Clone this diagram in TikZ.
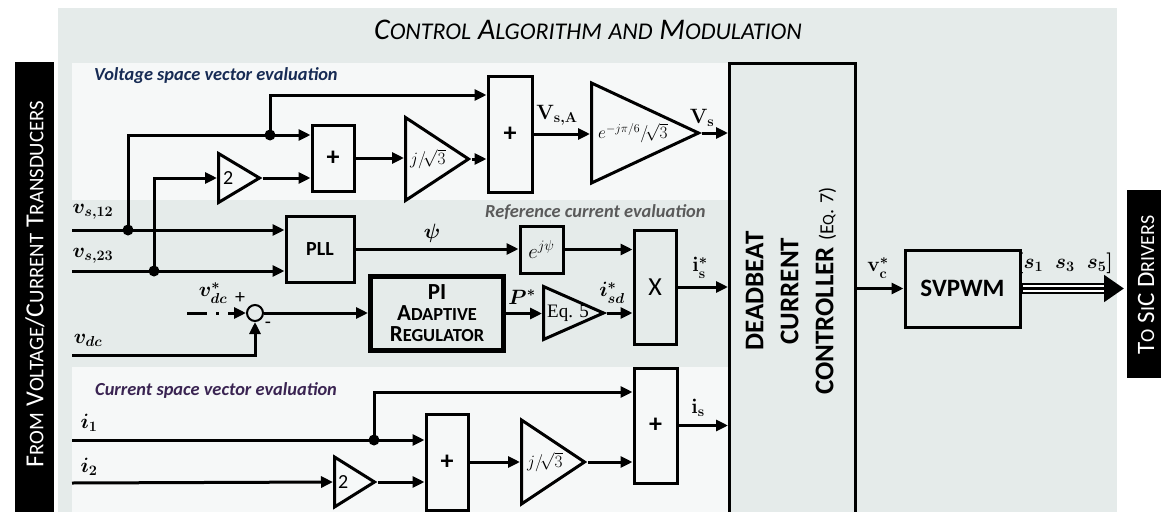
\documentclass[tikz,border=0pt]{standalone}
\usepackage{graphicx}
\usepackage{fontspec}
\setmainfont{Carlito}
\newfontfamily\tms{Liberation Serif}
\usetikzlibrary{shapes,arrows.meta,calc}
\usetikzlibrary{positioning}
\definecolor{panel}{RGB}{229,235,234}
\definecolor{inner}{RGB}{246,248,248}
\definecolor{voltcol}{RGB}{23,43,84}
\definecolor{refcol}{RGB}{90,90,90}
\definecolor{curcol}{RGB}{58,36,82}
\newcommand\sm[1]{\scalebox{0.8}{#1}}
\tikzstyle{blk}=[draw, line width=3pt, inner sep=0pt, font=\fontsize{26}{28}\selectfont\bfseries]
% triangle sizes: minimum width = base, minimum height = depth
\tikzstyle{gain}=[draw, isosceles triangle, isosceles triangle stretches, line width=3pt, inner sep=0pt, anchor=lower side]
\tikzstyle{gtxt}=[inner sep=0pt, font=\fontsize{18}{20}\selectfont]
\tikzstyle{sig}=[-{Triangle[length=12pt,width=11pt]}, line width=3pt]
\tikzstyle{jdot}=[circle, fill, inner sep=0pt, minimum size=11pt]
\tikzstyle{lbl}=[inner sep=0pt, font=\fontsize{20}{22}\selectfont\boldmath]
\tikzstyle{sect}=[inner sep=0pt, anchor=west, font=\fontsize{18.4}{20}\selectfont\bfseries\itshape]
\tikzstyle{vtxt}=[rotate=90, inner sep=0pt, text=white, font=\fontsize{26}{28}\selectfont]

\begin{document}
\begin{tikzpicture}[x=1pt, y=-1pt]
    \useasboundingbox (0,0) rectangle (1161,511);

    % PANELS
    \fill[panel] (58,8) rectangle (1117,530);
    \fill[inner] (72,63) rectangle (728,200);
    \fill[inner] (72,367) rectangle (728,530);
    \node[font=\fontsize{30}{32}\selectfont\itshape] (title) at (588,30) {C\sm{ONTROL} A\sm{LGORITHM} \sm{AND} M\sm{ODULATION}};

    % SOURCE / DRIVERS
    \node[fill=black, minimum width=39pt, minimum height=470pt, anchor=north west] (src) at (15,62) {};
    \node[vtxt] (srctxt) at (35,284) {F\sm{ROM} V\sm{OLTAGE}/C\sm{URRENT} T\sm{RANSDUCERS}};
    \node[fill=black, minimum width=40pt, minimum height=188pt, anchor=north west] (drv) at (1127,190) {};
    \node[vtxt, font=\fontsize{25}{27}\selectfont] (drvtxt) at (1146,285) {T\sm{O} S\sm{I}C D\sm{RIVERS}};

    % INPUTS
    \coordinate (in12) at (72,230);
    \coordinate (in23) at (72,271);
    \coordinate (indc) at (72,355);
    \coordinate (in1) at (72,440);
    \coordinate (in2) at (72,483);
    \coordinate (vref) at (187,313);
    \node[lbl] (l12) at (93,212) {$v_{s,12}$};
    \node[lbl] (l23) at (93,256) {$v_{s,23}$};
    \node[lbl] (ldc) at (88,340) {$v_{dc}$};
    \node[lbl] (li1) at (89,423) {$i_1$};
    \node[lbl] (li2) at (89,467) {$i_2$};

    % VOLTAGE SPACE VECTOR
    \node[sect, text=voltcol] (vlab) at (94,76) {Voltage space vector evaluation};
    \node[jdot] (j12) at (128,230) {};
    \node[jdot] (j23) at (154,271) {};
    \node[jdot] (tapA) at (270,135) {};
    \node[gain, minimum width=49pt, minimum height=41pt] (twoA) at (217,178) {};
    \node[gtxt, right=6pt of twoA.lower side, font=\fontsize{20}{22}\selectfont] (twoAtxt) {2};
    \node[blk, minimum width=42pt, minimum height=66pt] (plusA) at (333,158) {+};
    \node[gain, minimum width=83pt, minimum height=63pt] (jA) at (404,159) {};
    \node[gtxt, right=6pt of jA.lower side] (jAtxt) {$j\big/\!\sqrt{3}$};
    \node[blk, minimum width=44pt, minimum height=116pt] (plusB) at (510,134) {+};
    \node[gain, minimum width=100pt, minimum height=107pt] (rotA) at (590,133) {};
    \node[gtxt, right=8pt of rotA.lower side] (rotAtxt) {$e^{-j\pi/6}\big/\!\sqrt{3}$};
    \node[lbl] (lvsa) at (557,115) {$\mathbf{V}_{\mathbf{s,A}}$};
    \node[lbl] (lvs) at (702,118) {$\mathbf{V}_{\mathbf{s}}$};
    \draw[sig] (j12.center) |- (plusA.west |- tapA);
    \draw[sig] (tapA.center) |- ([yshift=39pt]plusB.west);
    \draw[sig] (j23.center) |- (twoA.lower side);
    \draw[sig] (twoA.apex) -- (twoA.apex -| plusA.west);
    \draw[sig] (plusA.east) -- (plusA.east -| jA.lower side);
    \draw[sig] (jA.apex) -- (jA.apex -| plusB.west);
    \draw[sig] (plusB.east) -- (plusB.east -| rotA.lower side);

    % DEADBEAT
    \node[draw, line width=3pt, minimum width=126pt, minimum height=470pt, anchor=north west] (dbc) at (728,62) {};
    \node[rotate=90, align=center, inner sep=0pt, font=\fontsize{27}{35}\selectfont\bfseries] (dbctxt) at (791,291) {DEADBEAT\\CURRENT\\CONTROLLER {\mdseries\fontsize{20}{22}\selectfont(E\sm{Q}. 7)}};
    \draw[sig] (rotA.apex) -- (rotA.apex -| dbc.west);

    % REFERENCE CURRENT
    \node[sect, text=refcol] (rlab) at (485,212) {Reference current evaluation};
    \node[blk, minimum width=68pt, minimum height=66pt, font=\fontsize{20}{22}\selectfont\bfseries] (pll) at (320,249) {PLL};
    \node[blk, minimum width=43pt, minimum height=47pt, font=\fontsize{20}{22}\selectfont\mdseries] (epsi) at (541.5,249.5) {$e^{j\psi}$};
    \node[blk, minimum width=42pt, minimum height=114pt, font=\fontsize{26}{28}\selectfont\mdseries] (mult) at (655,287) {X};
    \node[circle, draw, line width=2pt, minimum size=16pt, inner sep=0pt] (sum) at (255,313) {};
    \node[blk, line width=5pt, minimum width=133pt, minimum height=74pt, align=center, font=\fontsize{23}{21}\selectfont\bfseries] (pireg) at (437,313.5) {PI\\A\sm{DAPTIVE}\\R\sm{EGULATOR}};
    \node[gain, minimum width=53pt, minimum height=60pt] (eq5) at (542,313) {};
    \node[gtxt, right=5pt of eq5.lower side, font=\tms\fontsize{19}{21}\selectfont] (eq5txt) {Eq. 5};
    \node[lbl] (lpsi) at (432,233) {$\psi$};
    \node[lbl] (lvref) at (213,293) {$v_{dc}^{*}$};
    \node[inner sep=0pt, font=\fontsize{20}{22}\selectfont] (lplus) at (240,298) {+};
    \node[inner sep=0pt, font=\fontsize{20}{22}\selectfont] (lminus) at (268,325) {-};
    \node[lbl] (lp) at (522,297) {$P^{*}$};
    \node[lbl] (lisd) at (612,293) {$i_{sd}^{*}$};
    \node[lbl] (lisr) at (700,268) {$\mathbf{i}_{\mathbf{s}}^{*}$};
    \draw[sig] (in12) -- (in12 -| pll.west);
    \draw[sig] (in23) -- (in23 -| pll.west);
    \draw[sig] (pll.east) -- (pll.east -| epsi.west);
    \draw[sig] (epsi.east) -- (epsi.east -| mult.west);
    \draw[sig] (mult.east) -- (mult.east -| dbc.west);
    \draw[sig, dash pattern=on 20pt off 9pt on 3pt off 9pt] (vref) -- (sum.west);
    \draw[sig] (indc) -| (sum.south);
    \draw[sig] (sum.east) -- (sum.east -| pireg.west);
    \draw[sig] (pireg.east) -- (pireg.east -| eq5.lower side);
    \draw[sig] (eq5.apex) -- (eq5.apex -| mult.west);

    % CURRENT SPACE VECTOR
    \node[sect, text=curcol] (clab) at (95,390) {Current space vector evaluation};
    \node[jdot] (tapC) at (374,440) {};
    \node[gain, minimum width=50pt, minimum height=40pt] (twoC) at (333,482) {};
    \node[gtxt, right=5pt of twoC.lower side, font=\fontsize{20}{22}\selectfont] (twoCtxt) {2};
    \node[blk, minimum width=42pt, minimum height=96pt] (plusC) at (447,462) {+};
    \node[gain, minimum width=84pt, minimum height=63pt] (jC) at (520,462) {};
    \node[gtxt, right=7pt of jC.lower side] (jCtxt) {$j\big/\!\sqrt{3}$};
    \node[blk, minimum width=43pt, minimum height=115pt] (plusD) at (655.5,425.5) {+};
    \node[lbl] (lis) at (698,408) {$\mathbf{i}_{\mathbf{s}}$};
    \draw[sig] (in1) -- (in1 -| plusC.west);
    \draw[sig] (tapC.center) |- ([yshift=33.5pt]plusD.west);
    \draw[sig] (in2) -- (twoC.lower side);
    \draw[sig] (twoC.apex) -- (twoC.apex -| plusC.west);
    \draw[sig] (plusC.east) -- (jC.lower side);
    \draw[sig] (jC.apex) -- (jC.apex -| plusD.west);
    \draw[sig] (plusD.east) -- (plusD.east -| dbc.west);

    % MODULATION
    \node[blk, minimum width=115pt, minimum height=77pt, font=\fontsize{25}{27}\selectfont\bfseries] (svpwm) at (962.5,288.5) {SVPWM};
    \node[lbl] (lvc) at (878,268) {$\mathbf{v}_{\mathbf{c}}^{*}$};
    \node[lbl] (lsw) at (1065,263) {$\left[s_1\hspace{12pt}s_3\hspace{12pt}s_5\right]$};
    \draw[sig] (dbc.east |- svpwm.west) -- (svpwm.west);
    \draw[line width=11pt, -{Triangle[length=20pt,width=26pt]}] (svpwm.east) -- ([xshift=-3pt]drv.west |- svpwm.east);
    \draw[line width=7pt, white, shorten >=20pt] ([xshift=1.5pt]svpwm.east) -- ([xshift=-3pt]drv.west |- svpwm.east);
    \draw[line width=3pt, shorten >=20pt] ([xshift=1.5pt]svpwm.east) -- ([xshift=-3pt]drv.west |- svpwm.east);

\end{tikzpicture}
\end{document}
